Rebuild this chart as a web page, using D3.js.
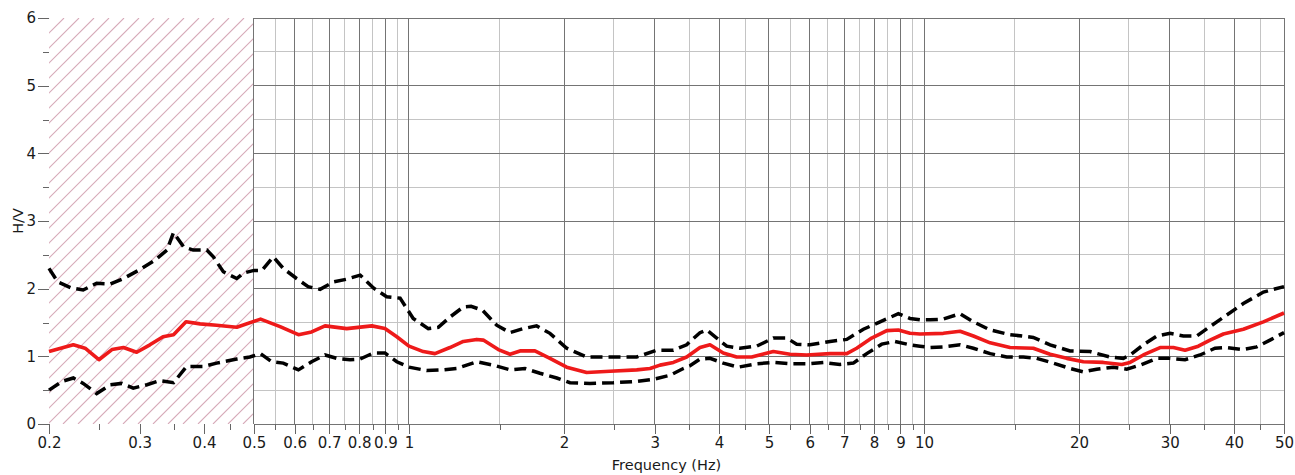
<!DOCTYPE html>
<html>
<head>
<meta charset="utf-8">
<script src="https://cdn.jsdelivr.net/npm/d3@7"></script>
<style>
  html, body { margin: 0; padding: 0; background: #fff; }
  svg { display: block; font-family: "DejaVu Sans", Verdana, sans-serif; }
</style>
</head>
<body>
<svg id="chart" width="1295" height="475"></svg>
<script>
// ---- Data ----
const freqMean = [0.2,0.223,0.235,0.25,0.265,0.279,0.296,0.314,0.333,0.349,0.369,0.393,0.423,0.463,0.515,0.562,0.61,0.647,0.687,0.757,0.847,0.898,0.947,1.0,1.066,1.123,1.201,1.275,1.354,1.394,1.491,1.571,1.643,1.756,1.878,2.024,2.213,2.457,2.768,2.938,3.072,3.261,3.461,3.673,3.841,4.076,4.328,4.628,5.098,5.494,5.918,6.57,7.08,7.40,7.914,8.467,8.915,9.393,9.82,10.90,11.75,12.47,13.44,14.69,16.30,17.57,18.93,20.39,22.29,24.21,25.12,26.66,28.73,30.49,32.12,34.09,35.92,38.13,41.69,45.60,50];
const hvMean = [1.07,1.17,1.12,0.95,1.10,1.13,1.06,1.17,1.29,1.32,1.51,1.48,1.46,1.43,1.55,1.44,1.32,1.36,1.45,1.41,1.45,1.41,1.29,1.15,1.07,1.04,1.13,1.22,1.25,1.24,1.10,1.03,1.08,1.08,0.97,0.84,0.76,0.78,0.80,0.82,0.87,0.91,0.99,1.13,1.17,1.05,0.99,0.99,1.07,1.03,1.02,1.04,1.04,1.12,1.27,1.38,1.39,1.34,1.33,1.34,1.37,1.30,1.20,1.13,1.12,1.03,0.97,0.92,0.91,0.88,0.91,1.02,1.13,1.13,1.09,1.15,1.24,1.33,1.40,1.51,1.64];

const freqUp = [0.2,0.208,0.221,0.233,0.2475,0.263,0.279,0.300,0.321,0.339,0.349,0.365,0.381,0.405,0.417,0.436,0.463,0.477,0.5,0.518,0.545,0.570,0.605,0.637,0.672,0.713,0.757,0.804,0.853,0.905,0.961,1.019,1.090,1.140,1.201,1.275,1.32,1.39,1.480,1.571,1.667,1.769,1.878,2.024,2.213,2.457,2.768,3.027,3.261,3.461,3.513,3.673,3.784,3.959,4.139,4.392,4.732,5.098,5.413,5.660,6.007,6.57,7.08,7.626,8.216,8.915,9.393,9.82,10.27,10.90,11.75,12.47,13.44,14.69,16.30,17.57,19.21,21.01,22.97,24.38,25.12,26.66,28.30,30.04,31.88,33.84,35.92,38.71,41.69,45.60,50];
const hvUp = [2.30,2.10,2.01,1.98,2.08,2.07,2.15,2.28,2.42,2.57,2.83,2.62,2.57,2.57,2.47,2.25,2.15,2.23,2.27,2.27,2.47,2.30,2.15,2.03,1.99,2.10,2.14,2.20,2.01,1.88,1.86,1.56,1.41,1.43,1.58,1.73,1.74,1.68,1.46,1.35,1.41,1.45,1.34,1.12,0.99,0.99,0.99,1.09,1.09,1.17,1.22,1.35,1.39,1.27,1.15,1.12,1.15,1.27,1.27,1.18,1.17,1.22,1.25,1.40,1.51,1.63,1.56,1.54,1.54,1.55,1.63,1.51,1.39,1.32,1.28,1.17,1.08,1.07,0.99,0.97,1.02,1.17,1.30,1.34,1.30,1.30,1.44,1.61,1.78,1.95,2.03];

const freqLo = [0.2,0.212,0.223,0.233,0.2475,0.263,0.277,0.2915,0.310,0.328,0.349,0.370,0.399,0.423,0.463,0.491,0.515,0.541,0.570,0.61,0.647,0.687,0.724,0.768,0.804,0.853,0.898,0.947,1.0,1.082,1.166,1.238,1.354,1.458,1.571,1.680,1.796,1.936,2.054,2.246,2.493,2.768,2.981,3.213,3.409,3.513,3.673,3.841,4.076,4.359,4.732,5.098,5.494,5.918,6.377,6.869,7.291,7.740,8.278,8.783,9.393,9.82,10.27,10.90,11.75,12.47,13.44,14.47,15.59,16.55,17.83,19.21,20.39,21.64,23.32,24.75,26.27,28.30,30.04,32.12,34.35,36.73,38.71,41.69,44.26,46.97,50];
const hvLo = [0.50,0.63,0.68,0.60,0.45,0.58,0.60,0.53,0.58,0.64,0.61,0.85,0.85,0.90,0.96,0.99,1.04,0.92,0.90,0.80,0.92,1.02,0.97,0.95,0.96,1.05,1.05,0.92,0.84,0.79,0.80,0.82,0.92,0.87,0.80,0.82,0.75,0.68,0.61,0.60,0.61,0.63,0.66,0.72,0.82,0.86,0.96,0.97,0.90,0.84,0.89,0.91,0.89,0.89,0.91,0.88,0.90,1.04,1.18,1.22,1.17,1.15,1.13,1.14,1.17,1.12,1.04,0.99,0.99,0.97,0.90,0.82,0.77,0.81,0.84,0.81,0.87,0.97,0.97,0.95,1.02,1.12,1.13,1.10,1.14,1.24,1.35];

// tick values / labels
const xMajorTicks = [0.2,0.3,0.4,0.5,0.6,0.7,0.8,0.9,1,2,3,4,5,6,7,8,9,10,20,30,40,50];
const xMinorTicks = [0.25,0.35,0.45,0.55,0.65,0.75,0.85,0.95,1.5,2.5,3.5,4.5,5.5,6.5,7.5,8.5,9.5,15,25,35,45];
const xLabels = ["0.2","0.3","0.4","0.5","0.6","0.7","0.8","0.9","1","2","3","4","5","6","7","8","9","10","20","30","40","50"];
const yMajorTicks = [0,1,2,3,4,5,6];
const yMinorTicks = [0.5,1.5,2.5,3.5,4.5,5.5];
const hatchLimit = 0.5; // frequencies below this are hatched
const xTitle = "Frequency (Hz)";
const yTitle = "H/V";

// ---- Layout ----
const mLeft = 49, mRight = 1284, mTop = 18, mBottom = 424;
const svg = d3.select("#chart");
const x = d3.scaleLog().domain([0.2, 50]).range([mLeft, mRight]);
const y = d3.scaleLinear().domain([0, 6]).range([mBottom, mTop]);

// ---- Hatched region ----
const defs = svg.append("defs");
defs.append("clipPath").attr("id", "hatchClip")
  .append("rect").attr("x", x(0.2)).attr("y", y(6))
  .attr("width", x(hatchLimit) - x(0.2)).attr("height", y(0) - y(6));
const hatch = svg.append("g").attr("clip-path", "url(#hatchClip)");
const hw = x(hatchLimit) - x(0.2), hh = y(0) - y(6);
for (let s = -hh; s < hw + 15; s += 15) {
  hatch.append("line")
    .attr("x1", x(0.2) + s).attr("y1", y(0))
    .attr("x2", x(0.2) + s + hh).attr("y2", y(6))
    .attr("stroke", "#d6a9b8").attr("stroke-width", 1.1);
}

// ---- Grid ----
const grid = svg.append("g");
yMinorTicks.forEach(v => grid.append("line")
  .attr("x1", x(hatchLimit)).attr("x2", x(50)).attr("y1", y(v)).attr("y2", y(v))
  .attr("stroke", "#c4c4c4").attr("stroke-width", 1).attr("shape-rendering", "crispEdges"));
xMinorTicks.filter(v => v >= hatchLimit).forEach(v => grid.append("line")
  .attr("x1", x(v)).attr("x2", x(v)).attr("y1", y(0)).attr("y2", y(6))
  .attr("stroke", "#c4c4c4").attr("stroke-width", 1).attr("shape-rendering", "crispEdges"));
yMajorTicks.forEach(v => grid.append("line")
  .attr("x1", x(hatchLimit)).attr("x2", x(50)).attr("y1", y(v)).attr("y2", y(v))
  .attr("stroke", "#747474").attr("stroke-width", 1).attr("shape-rendering", "crispEdges"));
xMajorTicks.filter(v => v >= hatchLimit).forEach(v => grid.append("line")
  .attr("x1", x(v)).attr("x2", x(v)).attr("y1", y(0)).attr("y2", y(6))
  .attr("stroke", "#747474").attr("stroke-width", 1).attr("shape-rendering", "crispEdges"));

// ---- Axes ----
const axisStyle = g => {
  g.select(".domain").remove();
  g.selectAll(".tick line").attr("stroke", "#666").attr("shape-rendering", "crispEdges");
  g.selectAll(".tick text").attr("fill", "#1a1a1a").style("font-size", "15px")
    .style("font-family", "'DejaVu Sans', Verdana, sans-serif");
};
svg.append("g").attr("transform", `translate(0,${mBottom})`)
  .call(d3.axisBottom(x).tickValues(xMinorTicks).tickSize(6).tickFormat(""))
  .call(axisStyle);
svg.append("g").attr("transform", `translate(0,${mBottom})`)
  .call(d3.axisBottom(x).tickValues(xMajorTicks).tickSize(10).tickPadding(3)
    .tickFormat((d, i) => xLabels[i]))
  .call(axisStyle);
svg.append("g").attr("transform", `translate(${mLeft},0)`)
  .call(d3.axisLeft(y).tickValues(yMinorTicks).tickSize(6).tickFormat(""))
  .call(axisStyle);
svg.append("g").attr("transform", `translate(${mLeft},0)`)
  .call(d3.axisLeft(y).tickValues(yMajorTicks).tickSize(11).tickPadding(2)
    .tickFormat(d3.format("d")))
  .call(axisStyle);

// ---- Titles ----
svg.append("text").attr("x", (mLeft + mRight) / 2).attr("y", 470)
  .attr("text-anchor", "middle").style("font-size", "14.5px").attr("fill", "#1a1a1a")
  .text(xTitle);
svg.append("text").attr("transform", `translate(23,${(mTop + mBottom) / 2}) rotate(-90)`)
  .attr("text-anchor", "middle").style("font-size", "14.5px").attr("fill", "#1a1a1a")
  .text(yTitle);

// ---- Curves ----
const line = d3.line().x(d => x(d[0])).y(d => y(d[1])).curve(d3.curveLinear);
const zip = (a, b) => a.map((f, i) => [f, b[i]]);

svg.append("path").datum(zip(freqUp, hvUp)).attr("d", line)
  .attr("fill", "none").attr("stroke", "#000").attr("stroke-width", 3.5)
  .attr("stroke-dasharray", "12,6");
svg.append("path").datum(zip(freqLo, hvLo)).attr("d", line)
  .attr("fill", "none").attr("stroke", "#000").attr("stroke-width", 3.5)
  .attr("stroke-dasharray", "12,6");
svg.append("path").datum(zip(freqMean, hvMean)).attr("d", line)
  .attr("fill", "none").attr("stroke", "#ee1a1a").attr("stroke-width", 3.6)
  .attr("stroke-linejoin", "round");
</script>
</body>
</html>
